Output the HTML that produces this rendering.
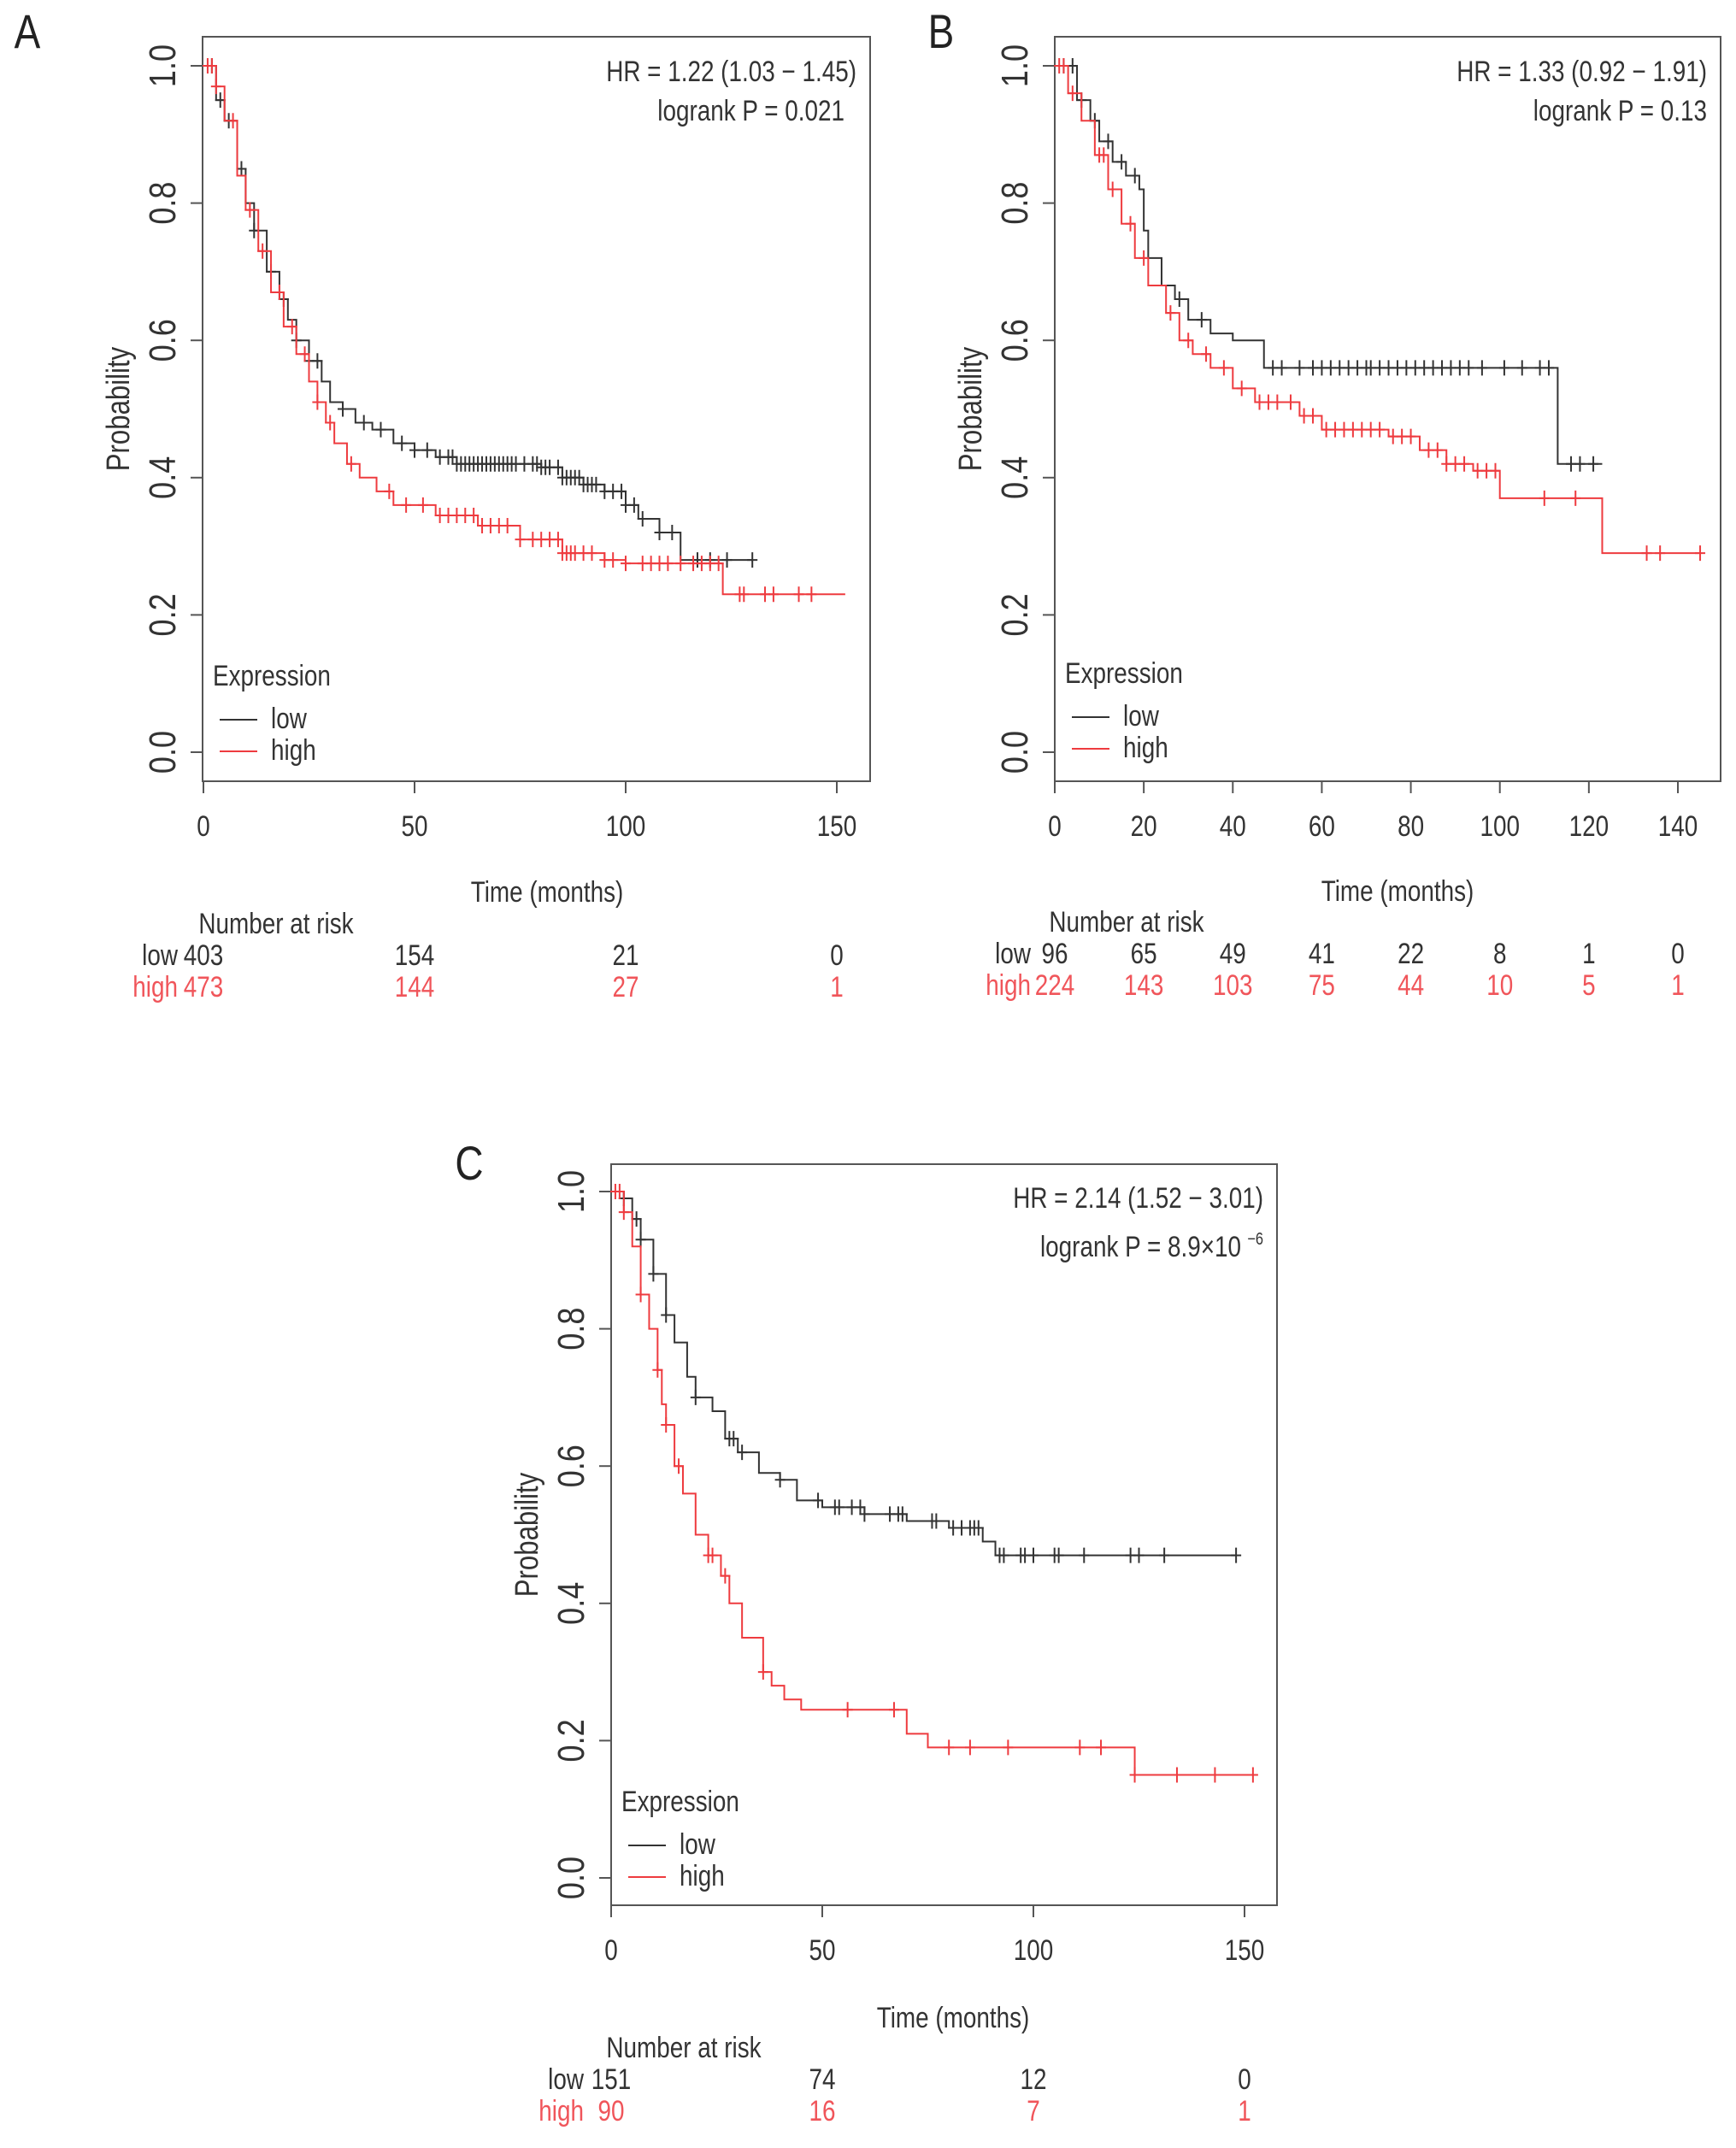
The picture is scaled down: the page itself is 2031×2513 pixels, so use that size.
<!DOCTYPE html>
<html><head><meta charset="utf-8"><style>
html,body{margin:0;padding:0;background:#fff}
svg{display:block}
text{font-family:"Liberation Sans",Arial,sans-serif}
</style></head><body>
<svg id="fig" width="2031" height="2513" viewBox="0 0 2031 2513" xmlns="http://www.w3.org/2000/svg"></svg>
<script>
// ---- data ----
const aLowT=[0,3,5,8,10,12,15,18,20,22,25,28,30,33,36,40,45,50,55,60,80,85,90,95,100,103,108,113];
const aLowS=[1,0.95,0.92,0.85,0.80,0.76,0.70,0.66,0.63,0.60,0.57,0.54,0.51,0.50,0.48,0.47,0.45,0.44,0.43,0.42,0.415,0.40,0.39,0.38,0.36,0.34,0.32,0.28];
const aLowCens=[2,4,6,9,12,16,19,22,25,27,33,38,42,47,50,53,56,58,59,60,61,62,63,64,65,66,67,68,69,70,71,72,73,74,76,78,79,80,81,82,84,85,86,87,88,89,90,91,92,93,95,97,99,100,102,104,108,111,117,120,124,130];
const aHighT=[0,3,5,8,10,13,16,19,22,25,27,29,31,34,37,41,45,55,65,75,85,95,100,123];
const aHighS=[1,0.97,0.92,0.84,0.79,0.73,0.67,0.62,0.58,0.54,0.51,0.48,0.45,0.42,0.40,0.38,0.36,0.345,0.33,0.31,0.29,0.28,0.275,0.23];
const aHighCens=[1,2,3,7,11,14,18,21,24,27,30,35,44,48,52,56,58,60,62,64,66,68,70,72,75,78,80,82,84,85,86,87,88,90,92,95,97,100,104,106,108,110,113,116,118,120,122,127,128,133,135,141,144];
const bLowT=[0,5,8,10,13,16,19,20,21,24,27,30,35,40,47,113];
const bLowS=[1,0.95,0.92,0.89,0.86,0.84,0.82,0.76,0.72,0.68,0.66,0.63,0.61,0.60,0.56,0.42];
const bLowCens=[2,4,6,9,12,15,18,28,33,49,51,55,58,60,62,64,66,68,70,71,73,75,77,79,81,83,85,87,89,91,93,96,101,105,109,111,116,118,121];
const bHighT=[0,3,6,9,12,15,18,21,25,28,31,35,40,45,55,60,75,82,88,94,100,123];
const bHighS=[1,0.96,0.92,0.87,0.82,0.77,0.72,0.68,0.64,0.60,0.58,0.56,0.53,0.51,0.49,0.47,0.46,0.44,0.42,0.41,0.37,0.29];
const bHighCens=[1,2,4,10,11,13,17,20,26,30,34,38,42,46,48,50,53,56,58,61,63,65,67,69,71,73,76,78,80,84,86,88,90,92,95,97,99,110,117,133,136,145];
const cLowT=[0,3,5,7,10,13,15,18,20,24,27,30,35,40,44,50,60,70,80,88,91];
const cLowS=[1,0.99,0.96,0.93,0.88,0.82,0.78,0.73,0.70,0.68,0.64,0.62,0.59,0.58,0.55,0.54,0.53,0.52,0.51,0.49,0.47];
const cLowCens=[3,6,7,10,13,20,28,29,31,40,49,53,54,57,59,60,66,68,69,76,77,81,83,85,86,87,92,93,97,98,100,105,106,112,123,125,131,148];
const cHighT=[0,3,5,7,9,11,12,13,15,17,20,23,26,28,31,36,38,41,45,70,75,124];
const cHighS=[1,0.97,0.92,0.85,0.80,0.74,0.69,0.66,0.60,0.56,0.50,0.47,0.44,0.40,0.35,0.30,0.28,0.26,0.245,0.21,0.19,0.15];
const cHighCens=[1,2,3,7,11,13,16,23,24,27,36,56,67,80,85,94,111,116,124,134,143,152];
const aEnd={low:130,high:152}, bEnd={low:123,high:145}, cEnd={low:148,high:152};
const xTicksA=[0,50,100,150], xTicksB=[0,20,40,60,80,100,120,140];
const yTicks=[0,0.2,0.4,0.6,0.8,1.0];
const riskA={low:["403","154","21","0"],high:["473","144","27","1"]};
const riskB={low:["96","65","49","41","22","8","1","0"],high:["224","143","103","75","44","10","5","1"]};
const riskC={low:["151","74","12","0"],high:["90","16","7","1"]};

const NS="http://www.w3.org/2000/svg";
const svg=document.getElementById('fig');
const BLACK="#333", RED="#ee3b3f", TRED="#f0555a";
function mk(tag,attrs,parent){const e=document.createElementNS(NS,tag);for(const k in attrs)e.setAttribute(k,attrs[k]);(parent||svg).appendChild(e);return e;}
function txt(parent,x,y,s,size,anchor,color,rot){
  const t=mk('text',{x:0,y:0,'font-size':size,'text-anchor':anchor||'start',fill:color||'#333',
    transform:`translate(${x},${y}) ${rot?'rotate(-90)':''} scale(0.82,1)`},parent);
  t.textContent=s;return t;}

function panel(P){
  const g=mk('g',{});
  
  
  const X=v=>P.x0+(v-P.xmin)/(P.xmax-P.xmin)*(P.x1-P.x0);
  const Y=v=>P.y0+v*(P.y1-P.y0);
  const fr=mk('rect',{x:P.fl,y:P.ft,width:P.fr-P.fl,height:P.fb-P.ft,fill:'none',stroke:'#555','stroke-width':2},g);
  
  const ya=mk('g',{},g);
  yTicks.forEach(v=>{mk('line',{x1:P.fl-14,x2:P.fl,y1:Y(v),y2:Y(v),stroke:'#555','stroke-width':2},ya);
    txt(ya,P.fl-32,Y(v),v.toFixed(1),44,'middle','#333',true);});
  const yt=txt(g,P.fl-86,(Y(0)+Y(1))/2,'Probability',38,'middle','#333',true);
  
  const xa=mk('g',{},g);
  P.xt.forEach(v=>{mk('line',{x1:X(v),x2:X(v),y1:P.fb,y2:P.fb+14,stroke:'#555','stroke-width':2},xa);
    txt(xa,X(v),P.fb+64,String(v),34,'middle');});
  const xt=txt(g,P.timeX,P.timeY,'Time (months)',34,'middle');
  
  [['low',P.lowT,P.lowS,P.lowC,BLACK],['high',P.highT,P.highS,P.highC,RED]].forEach(([nm,T,S,C,col])=>{
    let d=`M${X(T[0])},${Y(S[0])}`;
    for(let i=1;i<T.length;i++){d+=` H${X(T[i])} V${Y(S[i])}`;}
    d+=` H${X(P.end[nm])}`;
    const p=mk('path',{d:d,fill:'none',stroke:col,'stroke-width':2},g);
    
    const sv=t=>{let s=S[0];for(let i=0;i<T.length;i++)if(T[i]<=t)s=S[i];return s;};
    C.forEach(t=>{const cx=X(t),cy=Y(sv(t));
      const m=mk('path',{d:`M${cx-6},${cy} H${cx+6} M${cx},${cy-9} V${cy+9}`,stroke:col,'stroke-width':2},g);
      });
  });
  const h1=txt(g,P.fr-16,P.hrY,P.hr,34,'end');
  const h2=txt(g,P.fr-16-P.lrOff,P.lrY,P.lr,34,'end');
  if(P.sup){const s=txt(g,P.fr-16,P.lrY-14,'−6',20,'end');}
  const lg=mk('g',{},g);
  txt(lg,P.fl+12,P.legY,'Expression',34);
  mk('line',{x1:P.fl+20,x2:P.fl+64,y1:P.legY+40,y2:P.legY+40,stroke:BLACK,'stroke-width':2},lg);
  txt(lg,P.fl+80,P.legY+50,'low',34);
  mk('line',{x1:P.fl+20,x2:P.fl+64,y1:P.legY+77,y2:P.legY+77,stroke:RED,'stroke-width':2},lg);
  txt(lg,P.fl+80,P.legY+87,'high',34,'start','#333');
  const rt=mk('g',{},g);
  txt(rt,P.nrX,P.nrY,'Number at risk',34,'middle');
  txt(rt,X(0)-P.lblGap,P.nrY+37,'low',34,'end');
  txt(rt,X(0)-P.lblGap,P.nrY+74,'high',34,'end',TRED);
  P.risk.low.forEach((v,i)=>txt(rt,X(P.xt[i]),P.nrY+37,v,34,'middle'));
  P.risk.high.forEach((v,i)=>txt(rt,X(P.xt[i]),P.nrY+74,v,34,'middle',TRED));
  const L=txt(g,P.letX,P.letY,P.letter,56,'middle','#222');
}
panel({name:'panel-a',letter:'A',letX:32,letY:56,fl:237,ft:43,fr:1018,fb:914,x0:238,x1:979,xmin:0,xmax:150,y0:880,y1:77,
  xt:xTicksA,lowT:aLowT,lowS:aLowS,lowC:aLowCens,highT:aHighT,highS:aHighS,highC:aHighCens,end:aEnd,
  hr:'HR = 1.22 (1.03 − 1.45)',lr:'logrank P = 0.021',lrOff:14,hrY:95,lrY:141,legY:802,timeX:640,timeY:1055,nrX:323,nrY:1092,risk:riskA,lblGap:30});
panel({name:'panel-b',letter:'B',letX:1101,letY:56,fl:1234,ft:43,fr:2013,fb:914,x0:1234,x1:1963,xmin:0,xmax:140,y0:880,y1:77,
  xt:xTicksB,lowT:bLowT,lowS:bLowS,lowC:bLowCens,highT:bHighT,highS:bHighS,highC:bHighCens,end:bEnd,
  hr:'HR = 1.33 (0.92 − 1.91)',lr:'logrank P = 0.13',lrOff:0,hrY:95,lrY:141,legY:799,timeX:1635,timeY:1054,nrX:1318,nrY:1090,risk:riskB,lblGap:28});
panel({name:'panel-c',letter:'C',letX:549,letY:1380,fl:715,ft:1362,fr:1494,fb:2229,x0:715,x1:1456,xmin:0,xmax:150,y0:2197,y1:1394,
  xt:xTicksA,lowT:cLowT,lowS:cLowS,lowC:cLowCens,highT:cHighT,highS:cHighS,highC:cHighCens,end:cEnd,
  hr:'HR = 2.14 (1.52 − 3.01)',lr:'logrank P = 8.9×10',lrOff:26,sup:true,hrY:1413,lrY:1470,legY:2119,timeX:1115,timeY:2372,nrX:800,nrY:2407,risk:riskC,lblGap:32});
</script>
</body></html>
